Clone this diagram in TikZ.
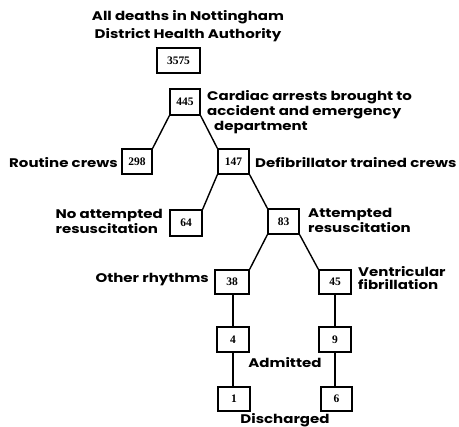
\documentclass[tikz,border=0pt]{standalone}
\usepackage{fontspec}
\newfontfamily\labfont{Poppins}[FakeStretch=1.2]
\newfontfamily\numfont{Liberation Serif}
\begin{document}
\begin{tikzpicture}[x=1pt,y=-1pt,
  numbox/.style={draw,line width=1.2pt,inner sep=0pt,font=\numfont\bfseries\fontsize{11.5}{11.5}\selectfont},
  lab/.style={inner sep=0pt,font=\labfont\bfseries\fontsize{12.5}{15}\selectfont},
  conn/.style={line width=1.4pt}]
\useasboundingbox (0,0) rectangle (459,427);
% boxes
\node[numbox,minimum width=43pt,minimum height=25pt] (n3575) at (178.5,60.5) {3575};
\node[numbox,minimum width=30pt,minimum height=26pt] (n445) at (185,102) {445};
\node[numbox,minimum width=30pt,minimum height=25pt] (n298) at (137,161.5) {298};
\node[numbox,minimum width=31pt,minimum height=25pt] (n147) at (233.5,161.5) {147};
\node[numbox,minimum width=32pt,minimum height=26pt] (n64) at (186,223) {64};
\node[numbox,minimum width=31pt,minimum height=25pt] (n83) at (283.5,221.5) {83};
\node[numbox,minimum width=34pt,minimum height=24pt] (n38) at (232,282) {38};
\node[numbox,minimum width=32pt,minimum height=24pt] (n45) at (335,282) {45};
\node[numbox,minimum width=32pt,minimum height=25pt] (n4) at (233,339.5) {4};
\node[numbox,minimum width=32pt,minimum height=25pt] (n9) at (335,339.5) {9};
\node[numbox,minimum width=31pt,minimum height=24pt] (n6) at (336.5,399) {6};
\node[numbox,minimum width=32pt,minimum height=24pt] (n1) at (234,399) {1};
% connectors
\draw[conn] (n445.south west) -- (n298.north east);
\draw[conn] (n445.south east) -- (n147.north west);
\draw[conn] (n147.south west) -- (n64.north east);
\draw[conn] (n147.south east) -- (n83.north west);
\draw[conn] (n83.south west) -- (n38.north east);
\draw[conn] (n83.south east) -- (n45.north west);
\draw[conn] (n4.north |- n38.south) -- (n4.north);
\draw[conn] (n4.south) -- (n4.south |- n1.north);
\draw[conn] (n9.north |- n45.south) -- (n9.north);
\draw[conn] (n9.south) -- (n9.south |- n6.north);
% labels
\node[lab,align=center,font=\labfont\bfseries\fontsize{12.5}{18}\selectfont] (tTitle) at (188,26) {All deaths in Nottingham\\District Health Authority};
\node[lab,align=left,anchor=north west] (tCard) at (207,90) {Cardiac arrests brought to\\accident and emergency\\\hspace*{7pt}department};
\node[lab,anchor=east] (tRout) at (118,163) {Routine crews};
\node[lab,anchor=west] (tDefib) at (255,163) {Defibrillator trained crews};
\node[lab,align=left,anchor=east] (tNo) at (163,221) {No attempted\\resuscitation};
\node[lab,align=left,anchor=west] (tAtt) at (308,220) {Attempted\\resuscitation};
\node[lab,anchor=east] (tOther) at (209,280) {Other rhythms};
\node[lab,align=left,anchor=west,font=\labfont\bfseries\fontsize{12.5}{13}\selectfont] (tVF) at (358,278.5) {Ventricular\\fibrillation};
\node[lab] (tAdm) at (285,363) {Admitted};
\node[lab] (tDis) at (285,420) {Discharged};
\end{tikzpicture}
\end{document}
